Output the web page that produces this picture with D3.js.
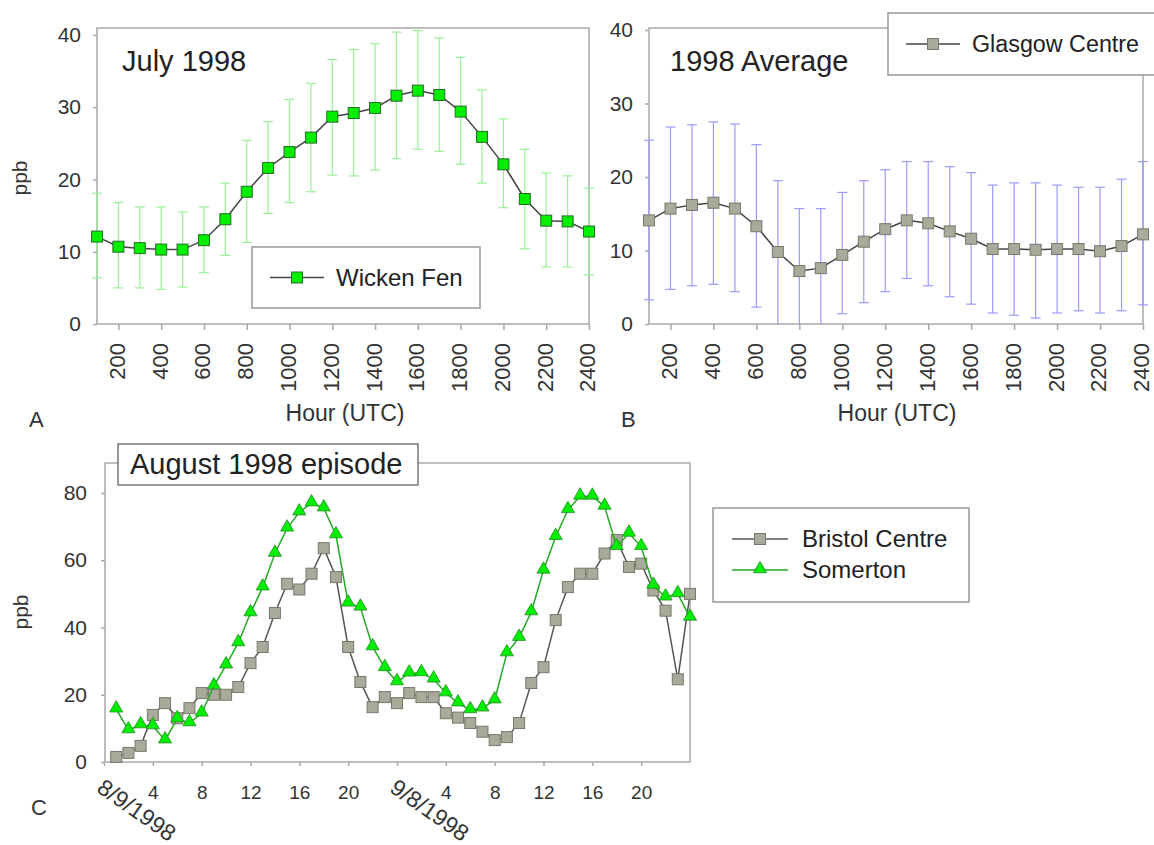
<!DOCTYPE html>
<html>
<head>
<meta charset="utf-8">
<script src="https://cdn.jsdelivr.net/npm/d3@7"></script>
<style>
  body { margin: 0; background: #fff; }
  svg { font-family: "Liberation Sans", Arial, sans-serif; }
</style>
</head>
<body>
<svg width="1154" height="845"></svg>
<script>
// hours of day (UTC) for panels A and B
var hours = [100, 200, 300, 400, 500, 600, 700, 800, 900, 1000, 1100, 1200,
             1300, 1400, 1500, 1600, 1700, 1800, 1900, 2000, 2100, 2200, 2300, 2400];
var hourTicks = [200, 400, 600, 800, 1000, 1200, 1400, 1600, 1800, 2000, 2200, 2400];
var ppbTicks = [0, 10, 20, 30, 40];

// A - Wicken Fen, July 1998
var wickenMean  = [12.1, 10.7, 10.5, 10.3, 10.3, 11.6, 14.5, 18.3, 21.6, 23.8, 25.8, 28.7,
                   29.2, 29.9, 31.6, 32.3, 31.7, 29.4, 25.9, 22.1, 17.3, 14.3, 14.2, 12.8];
var wickenUpper = [18.1, 16.8, 16.2, 16.2, 15.5, 16.2, 19.5, 25.4, 28.0, 31.1, 33.3, 36.6,
                   38.0, 38.8, 40.4, 40.6, 39.6, 36.9, 32.4, 28.4, 24.2, 20.9, 20.5, 18.8];
var wickenLower = [6.4, 5.0, 5.0, 4.8, 5.1, 7.1, 9.5, 11.3, 15.3, 16.8, 18.3, 20.6,
                   20.5, 21.3, 22.9, 24.2, 23.9, 22.1, 19.5, 16.1, 10.4, 7.9, 7.9, 6.8];

// B - Glasgow Centre, 1998 average
var glasgowMean  = [14.1, 15.7, 16.2, 16.5, 15.7, 13.3, 9.8, 7.2, 7.6, 9.4, 11.2, 12.9,
                    14.1, 13.7, 12.6, 11.6, 10.2, 10.2, 10.1, 10.2, 10.2, 9.9, 10.6, 12.2];
var glasgowUpper = [25.0, 26.8, 27.1, 27.5, 27.2, 24.4, 19.5, 15.7, 15.7, 17.9, 19.5, 21.0,
                    22.1, 22.1, 21.4, 20.6, 18.9, 19.2, 19.2, 18.9, 18.6, 18.6, 19.7, 22.1];
var glasgowLower = [3.3, 4.7, 5.2, 5.4, 4.4, 2.3, -1.0, -1.5, -1.0, 1.4, 2.9, 4.4,
                    6.2, 5.2, 3.7, 2.7, 1.5, 1.2, 0.8, 1.5, 1.8, 1.5, 1.8, 2.6];

// C - August 1998 episode, hourly values
var episodeHours = [1, 2, 3, 4, 5, 6, 7, 8, 9, 10, 11, 12, 13, 14, 15, 16, 17, 18, 19, 20, 21, 22, 23, 24,
                    25, 26, 27, 28, 29, 30, 31, 32, 33, 34, 35, 36, 37, 38, 39, 40, 41, 42, 43, 44, 45, 46, 47, 48];
var bristol  = [1.5, 2.7, 4.8, 14, 17.5, 13, 16, 20.5, 20, 20, 22.3, 29.4, 34.2, 44.3, 53, 51.3, 56, 63.6, 55, 34.2, 23.8, 16.3, 19.3, 17.5,
                20.5, 19.3, 19.3, 14.5, 13.2, 11.6, 9, 6.5, 7.4, 11.6, 23.5, 28.2, 42.2, 52, 56, 56, 62, 66, 58, 59, 51, 45, 24.6, 50];
var somerton = [15.7, 9.5, 11, 10.7, 6.5, 12.8, 11.6, 14.5, 22.6, 28.8, 35.4, 44.3, 52, 62, 69.5, 74.3, 77, 75.5, 67.5, 47.2, 46, 34.2, 28, 23.8,
                26.4, 26.5, 24.6, 20.5, 17.5, 15.5, 16, 18.4, 32.4, 37, 44.6, 57, 67, 75, 79, 79, 76, 64, 68, 64, 52.5, 49, 50, 43];
var episodeTicks = [0, 4, 8, 12, 16, 20, 24, 28, 32, 36, 40, 44];
var episodeTickLabels = ["8/9/1998", "4", "8", "12", "16", "20", "9/8/1998", "4", "8", "12", "16", "20"];
var episodePpbTicks = [0, 20, 40, 60, 80];

var svg = d3.select("svg");
var textColor = "#333";
var frameColor = "#a8a8a8";
var lineColor = "#444";

function frame(g, x0, y0, x1, y1) {
    g.append("rect")
        .attr("x", x0).attr("y", y0)
        .attr("width", x1 - x0).attr("height", y1 - y0)
        .attr("fill", "none")
        .attr("stroke", frameColor)
        .attr("stroke-width", 1.5);
}

function squareMarks(g, data, x, y, xs, fill, stroke, size) {
    g.selectAll(null)
        .data(data)
        .enter().append("rect")
        .attr("x", function (d, i) { return x(xs[i]) - size / 2; })
        .attr("y", function (d) { return y(d) - size / 2; })
        .attr("width", size).attr("height", size)
        .attr("fill", fill)
        .attr("stroke", stroke)
        .attr("stroke-width", 1);
}

//draws panel A or B: frame, error bars, line, markers, axes
function diurnalPanel(p) {
    var g = svg.append("g");
    var x = d3.scaleLinear().domain([100, 2400]).range([p.left, p.right]);
    var y = d3.scaleLinear().domain([0, 40]).range([p.bottom, p.y40]);

    frame(g, p.left, p.top, p.right, p.bottom);

    var clipId = "clip" + p.name;
    svg.append("clipPath").attr("id", clipId)
        .append("rect")
        .attr("x", p.left - 10).attr("y", 0)
        .attr("width", p.right - p.left + 20).attr("height", p.bottom);

    //error bars
    var eb = g.append("g")
        .attr("clip-path", "url(#" + clipId + ")")
        .attr("stroke", p.errColor)
        .attr("stroke-width", 1.2);
    hours.forEach(function (h, i) {
        var cx = x(h);
        eb.append("line").attr("x1", cx).attr("x2", cx)
            .attr("y1", y(p.upper[i])).attr("y2", y(p.lower[i]));
        eb.append("line").attr("x1", cx - 5).attr("x2", cx + 5)
            .attr("y1", y(p.upper[i])).attr("y2", y(p.upper[i]));
        eb.append("line").attr("x1", cx - 5).attr("x2", cx + 5)
            .attr("y1", y(p.lower[i])).attr("y2", y(p.lower[i]));
    });

    var line = d3.line()
        .x(function (d, i) { return x(hours[i]); })
        .y(function (d) { return y(d); });

    g.append("path")
        .datum(p.mean)
        .attr("fill", "none")
        .attr("stroke", lineColor)
        .attr("stroke-width", 1.5)
        .attr("d", line);

    squareMarks(g, p.mean, x, y, hours, p.markFill, p.markStroke, 11);

    //x axis
    var xAxis = g.append("g")
        .attr("transform", "translate(0," + p.bottom + ")")
        .call(d3.axisBottom(x).tickValues(hourTicks).tickSize(6).tickSizeOuter(0)
            .tickFormat(d3.format("d")));
    xAxis.select(".domain").remove();
    xAxis.selectAll("line").attr("stroke", frameColor).attr("stroke-width", 1.5);
    xAxis.selectAll("text")
        .attr("fill", textColor)
        .attr("font-size", 22)
        .attr("text-anchor", "end")
        .attr("transform", "rotate(-90)")
        .attr("x", -19)
        .attr("y", 0)
        .attr("dy", "0.27em");

    //y axis
    var yAxis = g.append("g")
        .attr("transform", "translate(" + p.left + ",0)")
        .call(d3.axisLeft(y).tickValues(ppbTicks).tickSize(4).tickSizeOuter(0));
    yAxis.select(".domain").remove();
    yAxis.selectAll("line").attr("stroke", frameColor).attr("stroke-width", 1.5);
    yAxis.selectAll("text")
        .attr("fill", textColor)
        .attr("font-size", 21)
        .attr("x", -16);

    g.append("text")
        .attr("x", p.axisTitleX)
        .attr("y", 421)
        .attr("text-anchor", "middle")
        .attr("font-size", 23)
        .attr("fill", textColor)
        .text("Hour (UTC)");

    g.append("text")
        .attr("x", p.titleX)
        .attr("y", 71)
        .attr("font-size", 29)
        .attr("fill", "#222")
        .text(p.title);

    g.append("text")
        .attr("x", p.letterX)
        .attr("y", 427)
        .attr("font-size", 22)
        .attr("fill", textColor)
        .text(p.letter);

    //legend
    var lg = g.append("g");
    lg.append("rect")
        .attr("x", p.legend[0]).attr("y", p.legend[1])
        .attr("width", p.legend[2]).attr("height", p.legend[3])
        .attr("fill", "#fff")
        .attr("stroke", "#999")
        .attr("stroke-width", 1.5);
    var ly = p.legend[1] + p.legend[3] / 2;
    lg.append("line")
        .attr("x1", p.legend[0] + 18).attr("x2", p.legend[0] + 72)
        .attr("y1", ly).attr("y2", ly)
        .attr("stroke", lineColor).attr("stroke-width", 1.5);
    lg.append("rect")
        .attr("x", p.legend[0] + 45 - 5.5).attr("y", ly - 5.5)
        .attr("width", 11).attr("height", 11)
        .attr("fill", p.markFill).attr("stroke", p.markStroke);
    lg.append("text")
        .attr("x", p.legend[0] + 84)
        .attr("y", ly + 8)
        .attr("font-size", p.legendFont)
        .attr("fill", "#222")
        .text(p.seriesName);
}

diurnalPanel({
    name: "A", left: 97, right: 589, top: 28, bottom: 324, y40: 35,
    mean: wickenMean, upper: wickenUpper, lower: wickenLower,
    errColor: "#99f099", markFill: "#00ee00", markStroke: "#2a6a2a",
    title: "July 1998", titleX: 122, letter: "A", letterX: 29, axisTitleX: 345,
    legend: [252, 247, 228, 61], seriesName: "Wicken Fen", legendFont: 24
});

diurnalPanel({
    name: "B", left: 649, right: 1143, top: 28, bottom: 324, y40: 30,
    mean: glasgowMean, upper: glasgowUpper, lower: glasgowLower,
    errColor: "#9a9aff", markFill: "#aaaa9a", markStroke: "#77776c",
    title: "1998 Average", titleX: 670, letter: "B", letterX: 621, axisTitleX: 897,
    legend: [888, 13, 280, 62], seriesName: "Glasgow Centre", legendFont: 23.3
});

svg.append("text")
    .attr("transform", "translate(27,178) rotate(-90)")
    .attr("text-anchor", "middle")
    .attr("font-size", 21)
    .attr("fill", textColor)
    .text("ppb");

// panel C
var gc = svg.append("g");
var xc = d3.scaleLinear().domain([0, 48]).range([104, 690]);
var yc = d3.scaleLinear().domain([0, 80]).range([762, 493]);

frame(gc, 105, 463, 690, 762);

var lineC = d3.line()
    .x(function (d, i) { return xc(episodeHours[i]); })
    .y(function (d) { return yc(d); });

gc.append("path")
    .datum(bristol)
    .attr("fill", "none")
    .attr("stroke", "#555")
    .attr("stroke-width", 1.5)
    .attr("d", lineC);

squareMarks(gc, bristol, xc, yc, episodeHours, "#aaaa9a", "#77776c", 11);

gc.append("path")
    .datum(somerton)
    .attr("fill", "none")
    .attr("stroke", "#22aa22")
    .attr("stroke-width", 1.5)
    .attr("d", lineC);

var tri = d3.symbol().type(d3.symbolTriangle).size(75);
gc.selectAll(null)
    .data(somerton)
    .enter().append("path")
    .attr("d", tri)
    .attr("transform", function (d, i) { return "translate(" + xc(episodeHours[i]) + "," + (yc(d) - 1) + ")"; })
    .attr("fill", "#00ee00")
    .attr("stroke", "#2a8a2a")
    .attr("stroke-width", 0.8);

var xAxisC = gc.append("g")
    .attr("transform", "translate(0,762)")
    .call(d3.axisBottom(xc).tickValues(episodeTicks).tickSize(4).tickSizeOuter(0)
        .tickFormat(function (d, i) { return episodeTickLabels[i]; }));
xAxisC.select(".domain").remove();
xAxisC.selectAll("line").attr("stroke", frameColor).attr("stroke-width", 1.5);
xAxisC.selectAll("text")
    .attr("fill", textColor)
    .attr("font-size", 19)
    .attr("y", 37)
    .attr("dy", 0)
    .each(function (d, i) {
        if (episodeTickLabels[i].indexOf("/") > -1) {
            d3.select(this)
                .attr("text-anchor", "start")
                .attr("x", 0).attr("y", 0).attr("dy", 0)
                .attr("font-size", 23)
                .attr("transform", "translate(-9,29) rotate(35)");
        }
    });

var yAxisC = gc.append("g")
    .attr("transform", "translate(105,0)")
    .call(d3.axisLeft(yc).tickValues(episodePpbTicks).tickSize(4).tickSizeOuter(0));
yAxisC.select(".domain").remove();
yAxisC.selectAll("line").attr("stroke", frameColor).attr("stroke-width", 1.5);
yAxisC.selectAll("text")
    .attr("fill", textColor)
    .attr("font-size", 21)
    .attr("x", -18);

gc.append("text")
    .attr("transform", "translate(28,612) rotate(-90)")
    .attr("text-anchor", "middle")
    .attr("font-size", 21)
    .attr("fill", textColor)
    .text("ppb");

gc.append("text")
    .attr("x", 31).attr("y", 815)
    .attr("font-size", 22)
    .attr("fill", textColor)
    .text("C");

// title box
gc.append("rect")
    .attr("x", 118).attr("y", 444)
    .attr("width", 300).attr("height", 41)
    .attr("fill", "#fff")
    .attr("stroke", "#777")
    .attr("stroke-width", 1.5);
gc.append("text")
    .attr("x", 130).attr("y", 474)
    .attr("font-size", 29)
    .attr("fill", "#222")
    .text("August 1998 episode");

// legend C
var lgc = gc.append("g");
lgc.append("rect")
    .attr("x", 713).attr("y", 508)
    .attr("width", 256).attr("height", 94)
    .attr("fill", "#fff")
    .attr("stroke", "#999")
    .attr("stroke-width", 1.5);
lgc.append("line")
    .attr("x1", 732).attr("x2", 788).attr("y1", 539).attr("y2", 539)
    .attr("stroke", "#555").attr("stroke-width", 1.5);
lgc.append("rect")
    .attr("x", 754.5).attr("y", 533.5).attr("width", 11).attr("height", 11)
    .attr("fill", "#aaaa9a").attr("stroke", "#77776c");
lgc.append("line")
    .attr("x1", 732).attr("x2", 788).attr("y1", 570).attr("y2", 570)
    .attr("stroke", "#22aa22").attr("stroke-width", 1.5);
lgc.append("path")
    .attr("d", tri)
    .attr("transform", "translate(760,569)")
    .attr("fill", "#00ee00").attr("stroke", "#2a8a2a").attr("stroke-width", 0.8);
lgc.append("text")
    .attr("x", 802).attr("y", 547)
    .attr("font-size", 24).attr("fill", "#222")
    .text("Bristol Centre");
lgc.append("text")
    .attr("x", 802).attr("y", 578)
    .attr("font-size", 24).attr("fill", "#222")
    .text("Somerton");
</script>
</body>
</html>
